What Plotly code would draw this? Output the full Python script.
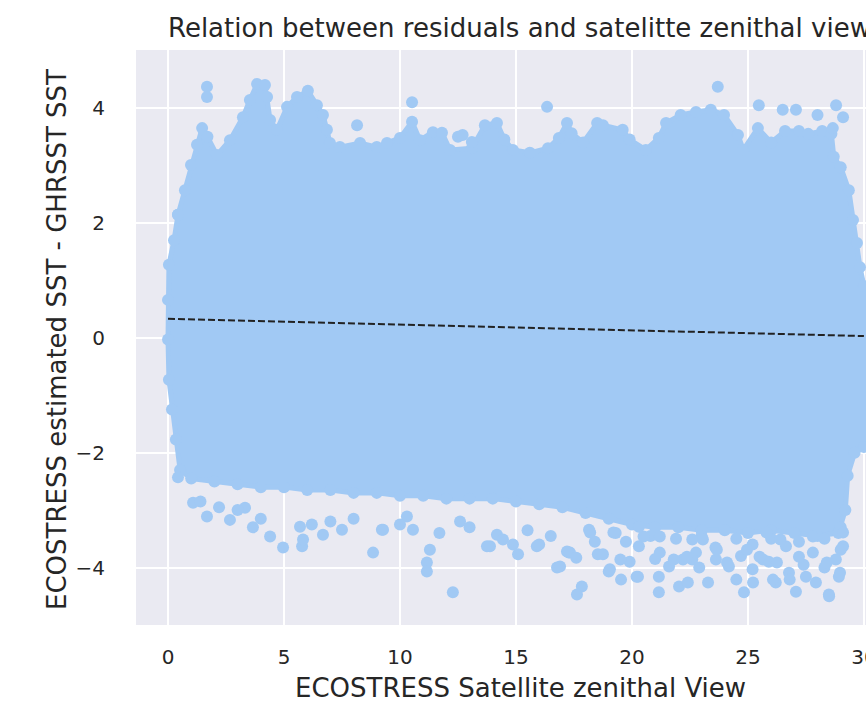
import plotly.graph_objects as go

# ---- data ----
# outline of the dense point cloud (marker centres), clockwise from left side
cloud_x = [0.43, 0.73, 0.99, 1.25, 1.47, 1.7, 2.11, 2.67, 3.23, 3.53, 3.84, 4.18, 4.27, 4.40, 4.70,
           5.13, 5.56, 6.03, 6.42, 6.68, 6.85, 6.98, 7.41, 8.28, 9.0, 9.44, 10.0, 10.52, 10.86,
           11.42, 11.81, 12.16, 13.1, 13.66, 14.18, 14.5, 14.87, 15.6, 16.38, 16.85, 17.2, 17.4,
           17.9, 18.5, 18.75, 19.6, 19.9, 20.6, 21.16, 21.47, 22.1, 22.76, 23.4, 23.97, 24.57,
           24.8, 25.43, 26.0, 26.6, 27.2, 27.6, 28.2, 28.6, 28.7, 29.0, 29.35, 29.53, 29.7, 29.83,
           30.0, 30.0,
           29.6, 29.3, 29.2, 28.9, 28.0, 27.0, 26.0, 25.0, 24.0, 23.0, 22.0, 21.0, 20.0, 19.0,
           18.0, 17.0, 16.0, 15.0, 14.0, 13.0, 12.0, 11.0, 10.0, 9.0, 8.0, 7.0, 6.0, 5.0, 4.0,
           3.0, 2.0, 1.0, 0.52,
           0.34, 0.17, 0.04, 0.0, 0.0, 0.04, 0.26, 0.43]
cloud_y = [2.14, 2.57, 3.01, 3.36, 3.65, 3.5, 3.18, 3.44, 3.84, 4.14, 4.42, 4.40, 4.19, 3.79, 3.62,
           4.02, 4.19, 4.30, 4.05, 3.88, 3.62, 3.39, 3.32, 3.39, 3.32, 3.39, 3.48, 3.76, 3.44,
           3.58, 3.57, 3.27, 3.30, 3.70, 3.74, 3.45, 3.27, 3.22, 3.30, 3.48, 3.74, 3.56,
           3.40, 3.74, 3.70, 3.62, 3.45, 3.27, 3.48, 3.74, 3.88, 3.93, 3.97, 3.88, 3.53,
           3.27, 3.65, 3.40, 3.60, 3.60, 3.55, 3.60, 3.55, 3.15, 2.97, 2.57, 2.05, 1.65, 1.23,
           0.9, -1.9,
           -2.0, -2.4, -3.0, -3.4, -3.45, -3.4, -3.35, -3.4, -3.35, -3.35, -3.3, -3.3, -3.25, -3.15,
           -3.05, -2.95, -2.9, -2.85, -2.8, -2.8, -2.8, -2.75, -2.75, -2.7, -2.7, -2.65, -2.65, -2.6, -2.6,
           -2.55, -2.5, -2.45, -2.3,
           -1.77, -1.25, -0.73, -0.03, 0.66, 1.27, 1.70, 2.14]

# scattered points outside / on the edge of the dense cloud
pts_x = [1.68, 1.68, 8.15, 10.52, 16.34, 23.7, 25.47, 12.5, 12.7, 13.1, 26.5, 27.07, 28.0, 28.8,
         29.1, 28.66,
         0.43, 1.08, 1.68, 2.67, 3.32, 3.66, 4.40, 4.96, 5.78, 5.69, 5.82, 6.68, 7.5, 8.84, 9.22,
         9.27, 10.3, 10.56, 11.29, 11.16, 11.16, 12.28, 12.59, 13.88, 14.18, 13.75, 14.44, 14.87,
         15.09, 15.9, 16.0, 16.77, 17.28, 17.33, 17.84, 17.63, 18.53, 18.75, 19.0, 19.53, 19.74,
         20.26, 21.16, 21.16, 21.6, 22.03, 22.41, 22.2, 23.28, 22.76, 24.18, 24.83, 25.22, 26.2,
         25.65, 26.77, 27.07, 27.93, 28.49, 28.92, 28.79, 27.8, 26.64, 23.62, 20.3, 18.15, 29.1,
         19.3, 20.8, 21.9, 23.0, 24.5, 25.2, 26.0, 27.2, 28.3, 29.0, 23.6, 25.9, 27.4, 28.3, 24.7,
         22.9, 21.0, 19.9, 18.4, 16.5, 15.5, 13.0, 11.7, 10.0, 8.0, 7.0, 6.2, 4.0, 3.0, 2.2, 1.4,
         17.2, 17.6, 19.05, 19.5, 20.2, 21.2, 21.2, 21.8, 22.6, 23.06, 23.66, 24.1, 24.5, 25.2,
         25.5, 24.96, 26.08, 26.25, 26.8, 27.5, 27.2, 28.4, 28.5, 28.97, 29.0, 29.1, 27.8, 26.4,
         25.8, 22.6, 22.37, 20.5, 20.3, 18.2, 19.2, 16.9]
pts_y = [4.37, 4.19, 3.70, 4.10, 4.02, 4.37, 4.05, 3.50, 3.53, 3.41, 3.97, 3.97, 3.88, 4.05,
         3.84, 3.65,
         -2.43, -2.87, -3.11, -3.17, -2.96, -3.30, -3.46, -3.65, -3.63, -3.29, -3.51, -3.43, -3.34,
         -3.74, -3.34, -3.34, -3.11, -3.34, -3.69, -3.91, -4.07, -4.43, -3.20, -3.63, -3.43, -3.63,
         -3.51, -3.60, -3.77, -3.63, -3.60, -4.0, -3.74, -3.74, -4.33, -4.47, -3.77, -3.77, -4.07,
         -4.21, -3.55, -4.16, -4.16, -4.43, -3.98, -4.33, -4.26, -3.86, -4.26, -3.74, -3.98, -4.43,
         -4.26, -4.26, -3.86, -4.09, -4.42, -4.26, -4.47, -4.16, -3.86, -3.74, -3.63, -3.86, -3.63,
         -3.34, -3.63,
         -3.4, -3.45, -3.5, -3.45, -3.5, -3.6, -3.5, -3.55, -3.5, -3.3, -3.65, -3.9, -3.95, -4.0,
         -3.8, -4.0, -3.85, -3.9, -3.55, -3.45, -3.35, -3.3, -3.4, -3.25, -3.15, -3.2, -3.25, -3.15,
         -3.0, -2.95, -2.85,
         -3.72, -3.83, -4.03, -3.86, -4.16, -3.46, -3.74, -3.86, -3.86, -3.51, -3.69, -3.91, -4.21,
         -4.03, -3.81, -3.69, -4.21, -3.91, -4.21, -4.16, -3.81, -3.91, -4.5, -4.09, -3.69, -3.39,
         -3.46, -3.51, -3.39, -3.51, -3.81, -3.46, -3.29, -3.39, -3.39, -3.98]

# fitted trend line
fit_x = [0, 30]
fit_y = [0.33, 0.03]

x_ticks = [0, 5, 10, 15, 20, 25, 30]
y_ticks = [-4, -2, 0, 2, 4]
y_tick_text = ["\u22124", "\u22122", "0", "2", "4"]

title_text = "Relation between residuals and satelitte zenithal view"
x_title = "ECOSTRESS Satellite zenithal View"
y_title = "ECOSTRESS estimated SST - GHRSST SST"

POINT = "#a1c9f4"
TEXT = "#262626"
FONT = "DejaVu Sans"

fig = go.Figure()
# dense cloud body
fig.add_trace(go.Scatter(x=cloud_x, y=cloud_y, mode="lines+markers", fill="toself",
                         fillcolor=POINT, line=dict(color=POINT, width=5),
                         marker=dict(color=POINT, size=12, line=dict(width=0)),
                         hoverinfo="skip", showlegend=False))
# individual scattered points
fig.add_trace(go.Scatter(x=pts_x, y=pts_y, mode="markers",
                         marker=dict(color=POINT, size=12, line=dict(width=0)),
                         showlegend=False))
# trend line
fig.add_trace(go.Scatter(x=fit_x, y=fit_y, mode="lines",
                         line=dict(color="#222222", width=2, dash="7px,3px"),
                         showlegend=False))

fig.update_layout(
    width=866, height=702,
    margin=dict(l=136, r=0, t=50, b=77),
    paper_bgcolor="white", plot_bgcolor="#eaeaf2",
    font=dict(family=FONT, color=TEXT, size=20),
    title=dict(text=title_text, x=168 / 866, xref="container", xanchor="left",
               y=1 - 28 / 702, yref="container", yanchor="middle",
               font=dict(size=26, color=TEXT, family=FONT)),
    xaxis=dict(range=[-1.38, 30.09], tickvals=x_ticks, showgrid=True, gridcolor="white",
               gridwidth=1.6, zeroline=False, showline=False, ticks="",
               ticklabelstandoff=18, ticklabeloverflow="allow", automargin=False,
               tickfont=dict(size=20, color=TEXT, family=FONT)),
    yaxis=dict(range=[-5.0, 5.01], tickvals=y_ticks, ticktext=y_tick_text, showgrid=True,
               gridcolor="white", gridwidth=1.6, zeroline=False, showline=False, ticks="",
               ticklabelstandoff=30, ticklabeloverflow="allow", automargin=False,
               tickfont=dict(size=20, color=TEXT, family=FONT)),
    annotations=[
        dict(text=x_title, xref="paper", yref="paper", x=(520.5 - 136) / 730,
             y=(625 - 688) / 575, xanchor="center", yanchor="middle", showarrow=False,
             font=dict(size=26, color=TEXT, family=FONT)),
        dict(text=y_title, xref="paper", yref="paper", x=(57 - 136) / 730,
             y=(625 - 340) / 575, xanchor="center", yanchor="middle", showarrow=False,
             textangle=-90, font=dict(size=26, color=TEXT, family=FONT)),
    ],
)

fig.write_html("out.html", config={"displayModeBar": False})
